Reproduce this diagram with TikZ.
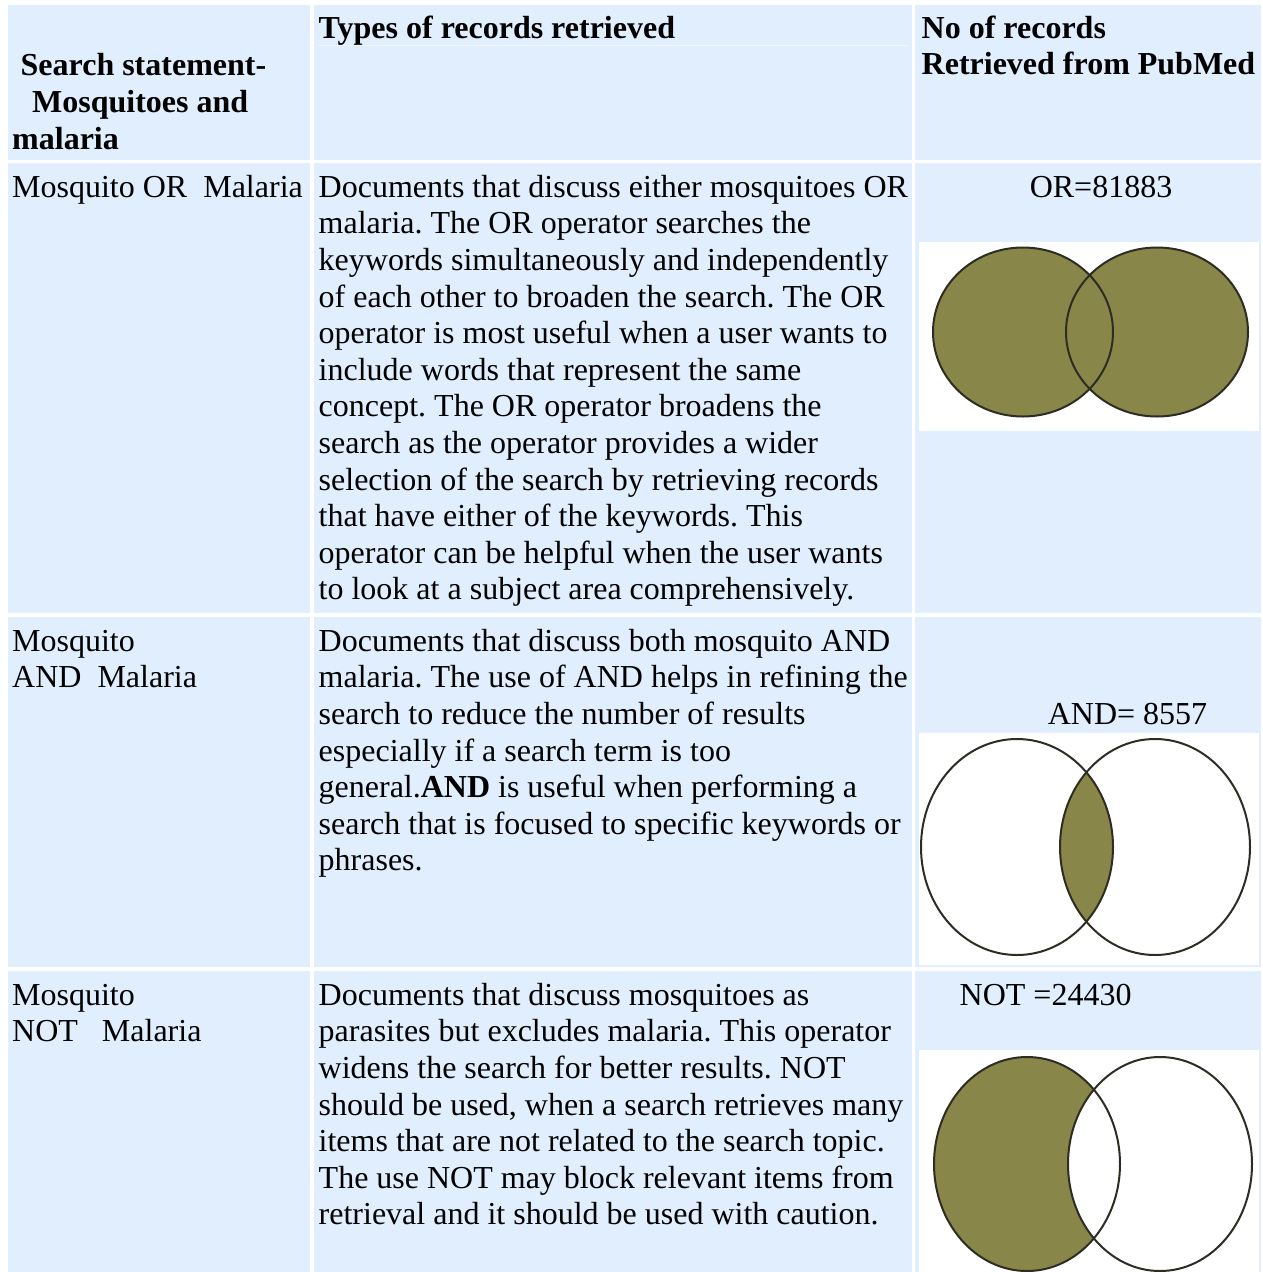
\documentclass[tikz,border=0pt]{standalone}
\usepackage{fontspec}
\setmainfont{Liberation Serif}
\frenchspacing
\definecolor{cellblue}{RGB}{225,238,253}
\definecolor{faintline}{RGB}{238,245,255}
\definecolor{venfill}{RGB}{136,134,72}
\definecolor{venline}{RGB}{45,45,35}
\begin{document}
\begin{tikzpicture}[x=1pt,y=-1pt,
  cell/.style={fill=cellblue},
  txt/.style={anchor=north west, inner sep=0pt, align=left, font=\fontsize{32}{36.6}\selectfont},
  one/.style={inner sep=0pt, font=\fontsize{32}{36.6}\selectfont},
  venpic/.style={fill=white},
  venedge/.style={draw=venline, line width=2pt}]
\useasboundingbox (0,0) rectangle (1263,1272);
\fill[white] (0,0) rectangle (1263,1272);
% cells: header
\fill[cell] (8,5) rectangle (310,160);
\fill[cell] (314,5) rectangle (912,160);
\fill[cell] (915,5) rectangle (1261,160);
\draw[faintline, line width=0.8pt] (318,45.5) -- (908,45.5);
% row OR
\fill[cell] (8,163) rectangle (310,613);
\fill[cell] (314,163) rectangle (912,613);
\fill[cell] (915,163) rectangle (1261,613);
% row AND
\fill[cell] (8,617) rectangle (310,967);
\fill[cell] (314,617) rectangle (912,967);
\fill[cell] (915,617) rectangle (1261,967);
% row NOT
\fill[cell] (8,971) rectangle (310,1272);
\fill[cell] (314,971) rectangle (912,1272);
\fill[cell] (915,971) rectangle (1261,1272);

% header texts
\node[txt, font=\fontsize{32}{36.6}\selectfont\bfseries] (h1) at (12,50.1)
  {\strut\hspace*{8.5pt}Search statement-\\\hspace*{20pt}Mosquitoes and\\malaria};
\node[txt, font=\fontsize{32}{36.6}\selectfont\bfseries] (h2) at (318.5,12.9)
  {\strut Types of records retrieved};
\node[txt, font=\fontsize{32}{36.6}\selectfont\bfseries] (h3) at (921.5,12.4)
  {\strut No of records\\Retrieved from PubMed};

% row OR
\node[txt] (s1) at (12,171.4) {\strut Mosquito OR\ \ Malaria};
\node[txt] (d1) at (318.5,171.4) {\strut Documents that discuss either mosquitoes OR\\
malaria. The OR operator searches the\\
keywords simultaneously and independently\\
of each other to broaden the search. The OR\\
operator is most useful when a user wants to\\
include words that represent the same\\
concept. The OR operator broadens the\\
search as the operator provides a wider\\
selection of the search by retrieving records\\
that have either of the keywords. This\\
operator can be helpful when the user wants\\
to look at a subject area comprehensively.};
\node[one, anchor=base] (n1) at (1101,197) {OR=81883};

% row AND
\node[txt] (s2) at (12,625.4) {\strut Mosquito\\AND\ \ Malaria};
\node[txt] (d2) at (318.5,625.4) {\strut Documents that discuss both mosquito AND\\
malaria. The use of AND helps in refining the\\
search to reduce the number of results\\
especially if a search term is too\\
general.\textbf{AND} is useful when performing a\\
search that is focused to specific keywords or\\
phrases.};
\node[one, anchor=base] (n2) at (1127.5,724.5) {AND= 8557};

% row NOT
\node[txt] (s3) at (12,979.4) {\strut Mosquito\\NOT\ \ \ Malaria};
\node[txt] (d3) at (318.5,979.4) {\strut Documents that discuss mosquitoes as\\
parasites but excludes malaria. This operator\\
widens the search for better results. NOT\\
should be used, when a search retrieves many\\
items that are not related to the search topic.\\
The use NOT may block relevant items from\\
retrieval and it should be used with caution.};
\node[one, anchor=base west] (n3) at (959.5,1005) {NOT =24430};

% OR venn
\fill[venpic] (919,242) rectangle (1259,431);
\fill[venfill] (1023,332) ellipse [x radius=90, y radius=84.5];
\fill[venfill] (1157,332) ellipse [x radius=91, y radius=84.5];
\draw[venedge] (1023,332) ellipse [x radius=90, y radius=84.5];
\draw[venedge] (1157,332) ellipse [x radius=91, y radius=84.5];

% AND venn
\fill[venpic] (919,733) rectangle (1259,965);
\begin{scope}
  \clip (1017,847) ellipse [x radius=96, y radius=108];
  \fill[venfill] (1155,847) ellipse [x radius=95, y radius=108];
\end{scope}
\draw[venedge] (1017,847) ellipse [x radius=96, y radius=108];
\draw[venedge] (1155,847) ellipse [x radius=95, y radius=108];

% NOT venn
\fill[venpic] (919,1050) rectangle (1259,1272);
\fill[venfill] (1027,1164) ellipse [x radius=93, y radius=107];
\begin{scope}
  \clip (1027,1164) ellipse [x radius=93, y radius=107];
  \fill[white] (1160,1164) ellipse [x radius=92, y radius=107];
\end{scope}
\draw[venedge] (1027,1164) ellipse [x radius=93, y radius=107];
\draw[venedge] (1160,1164) ellipse [x radius=92, y radius=107];
\end{tikzpicture}
\end{document}
